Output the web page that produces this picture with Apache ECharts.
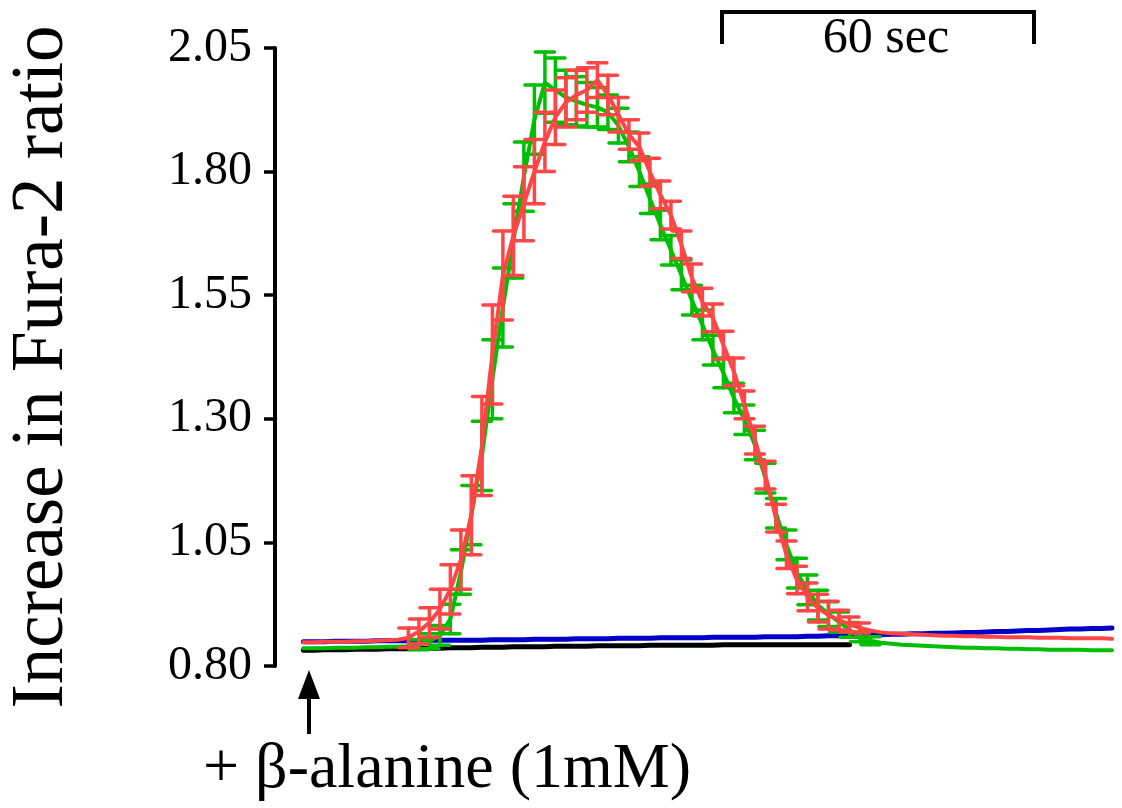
<!DOCTYPE html>
<html><head><meta charset="utf-8">
<script src="https://cdn.jsdelivr.net/npm/echarts@6/dist/echarts.min.js"></script>
<style>html,body{margin:0;padding:0;background:#fff}#c{width:1122px;height:808px}</style>
</head><body><div id="c"></div>
<script>
// time (s) of each sample, 2 s sampling
const timeSec = [0,2,4,6,8,10,12,14,16,18,20,22,24,26,28,30,32,34,36,38,40,42,44,46,48,50,52,54,56,58,60,62,64,66,68,70,72,74,76,78,80,82,84,86,88,90,92,94,96,98,100,102,104,106,108,110,112,114,116,118,120,122,124,126,128,130,132,134,136,138,140,142,144,146,148,150,152,154];

const yTickLabels = ['0.80','1.05','1.30','1.55','1.80','2.05'];

const blackVals = [0.832,0.832,0.833,0.833,0.833,0.834,0.834,0.834,0.835,0.835,0.835,0.836,0.836,0.836,0.837,0.837,0.837,0.838,0.838,0.838,0.839,0.839,0.839,0.839,0.840,0.840,0.840,0.840,0.841,0.841,0.841,0.841,0.841,0.842,0.842,0.842,0.842,0.842,0.842,0.842,0.843,0.843,0.843,0.843,0.843,0.843,0.843,0.843,0.843,0.843,0.843,0.843,0.843];

const blueVals = [0.849,0.849,0.849,0.850,0.850,0.850,0.850,0.851,0.851,0.851,0.851,0.851,0.852,0.852,0.852,0.852,0.852,0.852,0.853,0.853,0.853,0.853,0.854,0.854,0.854,0.854,0.855,0.855,0.855,0.855,0.856,0.856,0.856,0.856,0.857,0.857,0.857,0.857,0.857,0.858,0.858,0.858,0.858,0.858,0.859,0.859,0.859,0.859,0.860,0.860,0.861,0.861,0.862,0.862,0.863,0.863,0.864,0.864,0.865,0.865,0.866,0.866,0.867,0.868,0.868,0.869,0.870,0.870,0.871,0.872,0.872,0.873,0.874,0.875,0.875,0.876,0.876,0.877];

const greenVals = [0.836,0.836,0.836,0.837,0.837,0.837,0.838,0.838,0.839,0.839,0.840,0.843,0.850,0.862,0.895,0.990,1.105,1.225,1.380,1.525,1.660,1.790,1.905,1.980,1.965,1.950,1.942,1.935,1.930,1.920,1.893,1.850,1.800,1.745,1.692,1.641,1.591,1.540,1.490,1.439,1.393,1.342,1.298,1.247,1.180,1.109,1.045,0.988,0.954,0.923,0.905,0.889,0.873,0.859,0.851,0.847,0.845,0.843,0.842,0.841,0.840,0.839,0.838,0.837,0.837,0.836,0.836,0.835,0.835,0.834,0.834,0.833,0.833,0.833,0.833,0.832,0.832,0.832];
const greenErr = [0,0,0,0,0,0,0,0,0,0,0,0.010,0.015,0.020,0.030,0.045,0.060,0.070,0.080,0.080,0.075,0.070,0.070,0.062,0.065,0.055,0.050,0.045,0.040,0.035,0.035,0.030,0.030,0.030,0.030,0.030,0.030,0.030,0.030,0.030,0.030,0.030,0.030,0.030,0.030,0.030,0.030,0.030,0.030,0.030,0.025,0.020,0.015,0.010,0.008,0,0,0,0,0,0,0,0,0,0,0,0,0,0,0,0,0,0,0,0,0,0,0];

const redVals = [0.848,0.848,0.849,0.849,0.849,0.850,0.850,0.851,0.852,0.853,0.857,0.870,0.888,0.915,0.955,1.015,1.105,1.245,1.430,1.590,1.670,1.735,1.800,1.860,1.910,1.940,1.955,1.965,1.985,1.955,1.915,1.875,1.850,1.799,1.753,1.712,1.652,1.585,1.536,1.504,1.449,1.395,1.328,1.257,1.186,1.099,1.025,0.974,0.940,0.917,0.903,0.893,0.884,0.877,0.872,0.868,0.866,0.865,0.864,0.863,0.862,0.861,0.861,0.860,0.860,0.859,0.859,0.858,0.858,0.858,0.857,0.857,0.857,0.856,0.856,0.856,0.856,0.855];
const redErr = [0,0,0,0,0,0,0,0,0,0,0.020,0.025,0.030,0.040,0.050,0.060,0.080,0.100,0.100,0.090,0.080,0.075,0.065,0.060,0.055,0.050,0.050,0.045,0.035,0.040,0.035,0.030,0.028,0.028,0.028,0.028,0.028,0.028,0.028,0.028,0.028,0.028,0.028,0.028,0.028,0.028,0.028,0.028,0.028,0.028,0.028,0.020,0.015,0.010,0,0,0,0,0,0,0,0,0,0,0,0,0,0,0,0,0,0,0,0,0,0,0,0];

const X_MIN = -5.4, X_MAX = 155.9, Y_MIN = 0.8, Y_MAX = 2.05;
const COLORS = {black:'#000000', blue:'#0000C8', green:'#00BE00', red:'#FF4646'};
const FONT = '"Liberation Serif","Times New Roman",serif';

function pairs(vals){ return vals.map((v,i)=>[timeSec[i], v]); }
function errData(vals, errs){
  const out=[]; vals.forEach((v,i)=>{ if(errs[i]>0) out.push([timeSec[i], v, errs[i]]); }); return out;
}
function errSeries(vals, errs, color, z){
  return {
    type:'custom', z:z, clip:true,
    data: errData(vals, errs),
    renderItem: function(params, api){
      const x = api.value(0), y = api.value(1), e = api.value(2);
      const hi = api.coord([x, y+e]), lo = api.coord([x, y-e]);
      const cw = 9.5;
      const st = {stroke: color, lineWidth: 3.5, lineCap:'round'};
      return {type:'group', children:[
        {type:'line', shape:{x1:hi[0], y1:hi[1], x2:lo[0], y2:lo[1]}, style:st},
        {type:'line', shape:{x1:hi[0]-cw, y1:hi[1], x2:hi[0]+cw, y2:hi[1]}, style:st},
        {type:'line', shape:{x1:lo[0]-cw, y1:lo[1], x2:lo[0]+cw, y2:lo[1]}, style:st}
      ]};
    }
  };
}
function lineSeries(vals, color, width, z){
  return {type:'line', data:pairs(vals), showSymbol:false, symbol:'none', z:z,
    lineStyle:{color:color, width:width, cap:'round', join:'round'}, itemStyle:{color:color}, animation:false};
}

const chart = echarts.init(document.getElementById('c'), null, {renderer:'canvas'});
chart.setOption({
  animation:false,
  backgroundColor:'#fff',
  grid:{left:275, right:0, top:48, bottom:142, containLabel:false},
  xAxis:[
    {type:'value', min:X_MIN, max:X_MAX, show:false},
    {type:'value', min:0, max:X_MAX - X_MIN, show:false}
  ],
  yAxis:{type:'value', min:Y_MIN, max:Y_MAX, interval:0.25,
    axisLine:{show:true, onZero:true, onZeroAxisIndex:1, lineStyle:{color:'#000', width:4}},
    axisTick:{show:true, length:11, lineStyle:{color:'#000', width:3.5}},
    splitLine:{show:false},
    axisLabel:{margin:23, color:'#000', fontSize:48, fontFamily:FONT,
      formatter:function(v){ const k=Math.round((v-0.8)/0.25); return yTickLabels[k]; }}
  },
  series:[
    lineSeries(blackVals, COLORS.black, 5, 1),
    lineSeries(blueVals, COLORS.blue, 5, 2),
    errSeries(greenVals, greenErr, COLORS.green, 3),
    lineSeries(greenVals, COLORS.green, 4, 4),
    errSeries(redVals, redErr, COLORS.red, 5),
    lineSeries(redVals, COLORS.red, 4, 6)
  ],
  graphic:[
    {id:'ytitle', type:'text', x:43, y:367, rotation:Math.PI/2,
      style:{text:'Increase in Fura-2 ratio', fontSize:73, fontFamily:FONT, fill:'#000', align:'center', verticalAlign:'middle'}},
    {id:'addlabel', type:'text', x:447, y:770,
      style:{text:'+ \u03B2-alanine (1mM)', fontSize:64, fontFamily:FONT, fill:'#000', align:'center', verticalAlign:'middle'}},
    {id:'scaletext', type:'text', x:886, y:39,
      style:{text:'60 sec', fontSize:50, fontFamily:FONT, fill:'#000', align:'center', verticalAlign:'middle'}},
    {id:'scalebar', type:'polyline', shape:{points:[[722,44],[722,12],[1034,12],[1034,44]]},
      style:{stroke:'#000', lineWidth:4, fill:null}},
    {id:'arrowshaft', type:'rect', shape:{x:307, y:694, width:4, height:40}, style:{fill:'#000'}},
    {id:'arrowhead', type:'polygon', shape:{points:[[309,670],[298,699],[320,699]]}, style:{fill:'#000'}}
  ]
});
</script>
</body></html>
